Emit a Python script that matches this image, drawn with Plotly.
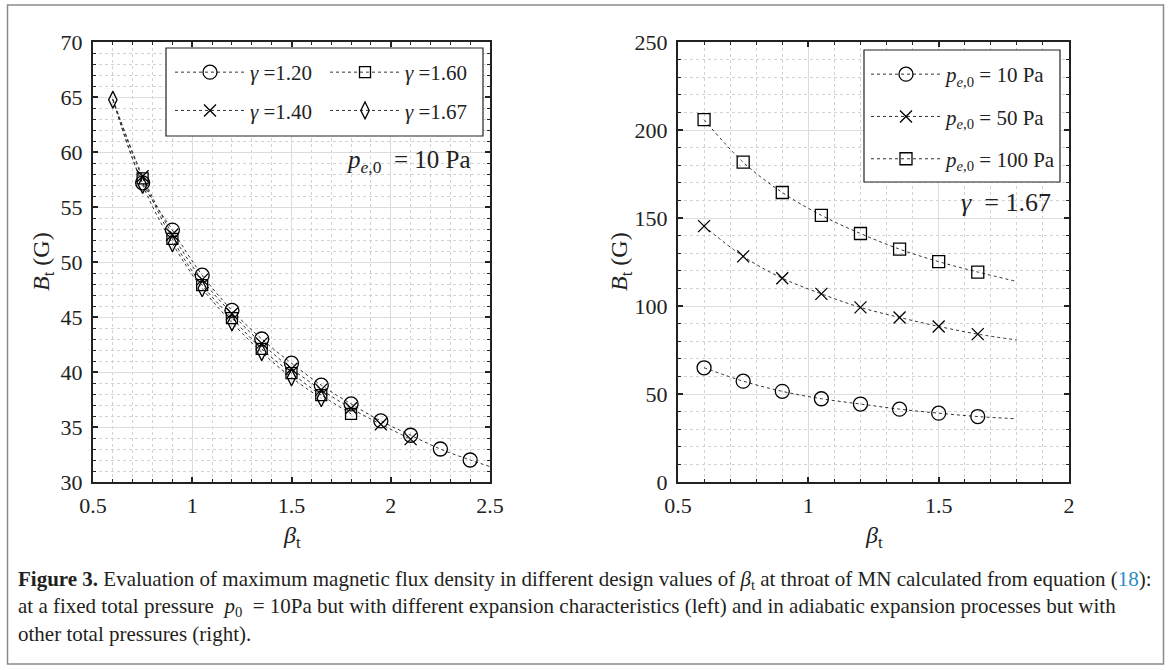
import plotly.graph_objects as go

W, H = 1171, 670
def px(x): return x / W
def py(y): return 1 - y / H

FONT = "Liberation Serif"

# ---------------- data: left panel (p_e0 = 10 Pa, different gamma) ----------------
gamma_labels = ["1.20", "1.40", "1.60", "1.67"]
beta_g120 = [0.75, 0.9, 1.05, 1.2, 1.35, 1.5, 1.65, 1.8, 1.95, 2.1, 2.25, 2.4]
B_g120 = [57.2, 52.9, 48.8, 45.6, 43.0, 40.8, 38.8, 37.1, 35.55, 34.25, 33.0, 32.0]
beta_g140 = [0.75, 0.9, 1.05, 1.2, 1.35, 1.5, 1.65, 1.8, 1.95, 2.1]
B_g140 = [57.8, 52.5, 48.4, 45.3, 42.6, 40.3, 38.4, 36.7, 35.25, 33.9]
beta_g160 = [0.75, 0.9, 1.05, 1.2, 1.35, 1.5, 1.65, 1.8]
B_g160 = [57.6, 52.1, 47.9, 44.9, 42.1, 39.9, 37.9, 36.2]
beta_g167 = [0.6, 0.75, 0.9, 1.05, 1.2, 1.35, 1.5, 1.65]
B_g167 = [64.75, 57.0, 51.7, 47.6, 44.5, 41.8, 39.5, 37.6]

# curve start / end points
line_start_B = [64.8, 64.8, 64.75, 64.75]   # at beta = 0.6
g120_end_beta, g120_end_B = 2.5, 31.4

# ---------------- data: right panel (gamma = 1.67, different p_e0) ----------------
p_labels = ["10", "50", "100"]
beta_p = [0.6, 0.75, 0.9, 1.05, 1.2, 1.35, 1.5, 1.65]
B_p10 = [64.9, 57.3, 51.5, 47.3, 44.3, 41.4, 39.1, 37.2]
B_p50 = [145.4, 128.2, 115.8, 106.9, 99.2, 93.5, 88.4, 84.0]
B_p100 = [205.9, 181.7, 164.5, 151.5, 141.2, 132.3, 125.2, 119.3]
line_end_beta = 1.8
line_end_B = [35.9, 80.7, 113.9]

fig = go.Figure()

LINE = dict(color="#333333", width=1, dash="dot", shape="spline")
MK = dict(color="black", line=dict(color="black", width=1.3))

left_series = [
    ("circle-open", 14, beta_g120, B_g120, True),
    ("x-thin-open", 12, beta_g140, B_g140, False),
    ("square-open", 11, beta_g160, B_g160, False),
    ("diamond-tall-open", 12, beta_g167, B_g167, False),
]
legend_for_left = {0: "legend", 1: "legend", 2: "legend2", 3: "legend2"}
for i, (sym, size, bx, by, ext) in enumerate(left_series):
    lx = list(bx)
    ly = list(by)
    if lx[0] != 0.6:
        lx = [0.6] + lx
        ly = [line_start_B[i]] + ly
    if ext:
        lx = lx + [g120_end_beta]
        ly = ly + [g120_end_B]
    fig.add_trace(go.Scatter(x=lx, y=ly, mode="lines", line=LINE, showlegend=False,
                             hoverinfo="skip", xaxis="x", yaxis="y"))
    fig.add_trace(go.Scatter(x=bx, y=by, mode="markers",
                             marker=dict(symbol=sym, size=size, **MK),
                             showlegend=False, xaxis="x", yaxis="y"))
    fig.add_trace(go.Scatter(x=[None], y=[None], mode="lines+markers",
                             line=dict(color="#333333", width=1, dash="dot"),
                             marker=dict(symbol=sym, size=size, **MK),
                             name="<i>γ</i> =" + gamma_labels[i],
                             legend=legend_for_left[i], legendgroup="g" + str(i),
                             xaxis="x", yaxis="y"))

right_series = [
    ("circle-open", 14, B_p10),
    ("x-thin-open", 12, B_p50),
    ("square-open", 12, B_p100),
]
for i, (sym, size, by) in enumerate(right_series):
    fig.add_trace(go.Scatter(x=beta_p + [line_end_beta], y=by + [line_end_B[i]], mode="lines",
                             line=LINE, showlegend=False, hoverinfo="skip",
                             xaxis="x2", yaxis="y2"))
    fig.add_trace(go.Scatter(x=beta_p, y=by, mode="markers",
                             marker=dict(symbol=sym, size=size, **MK),
                             showlegend=False, xaxis="x2", yaxis="y2"))
    fig.add_trace(go.Scatter(x=[None], y=[None], mode="lines+markers",
                             line=dict(color="#333333", width=1, dash="dot"),
                             marker=dict(symbol=sym, size=size, **MK),
                             name="<i>p</i><sub><i>e</i>,0</sub> = " + p_labels[i] + " Pa",
                             legend="legend3", legendgroup="p" + str(i),
                             xaxis="x2", yaxis="y2"))

def axis(domain, rng, dtick, minor_dtick, anchor, standoff):
    return dict(
        domain=domain, range=rng, dtick=dtick, anchor=anchor, automargin=False,
        showline=True, linecolor="#222222", linewidth=2, mirror="allticks",
        ticks="inside", ticklen=5, tickwidth=1.5, tickcolor="#222222",
        ticklabelstandoff=standoff,
        showgrid=True, gridcolor="#dcdcdc", gridwidth=1, zeroline=False,
        tickfont=dict(family=FONT, size=22, color="#222222"),
        minor=dict(dtick=minor_dtick, ticks="inside", ticklen=3, tickwidth=1.2,
                   tickcolor="#222222", showgrid=True, gridcolor="#d2d2d2",
                   griddash="dot", gridwidth=1),
        fixedrange=True,
    )

xl = [px(93), px(490)]
xr = [px(678), px(1069)]
yd = [py(482), py(42)]

fig.update_layout(
    template="none",
    width=W, height=H, margin=dict(l=0, r=0, t=0, b=0, pad=0, autoexpand=False),
    paper_bgcolor="white", plot_bgcolor="white",
    xaxis=axis(xl, [0.5, 2.5], 0.5, 0.1, "y", 3),
    yaxis=axis(yd, [30, 70], 5, 1, "x", 4),
    xaxis2=axis(xr, [0.5, 2.0], 0.5, 0.1, "y2", 3),
    yaxis2=axis(yd, [0, 250], 50, 10, "x2", 4),
    font=dict(family=FONT, color="#222222"),
)

leg_common = dict(bgcolor="rgba(0,0,0,0)", borderwidth=0, orientation="v",
                  xanchor="left", yanchor="top", itemwidth=70, tracegroupgap=8,
                  font=dict(family=FONT, size=21, color="#222222"),
                  itemclick=False, itemdoubleclick=False)
fig.update_layout(
    legend=dict(x=px(170), y=py(52), **leg_common),
    legend2=dict(x=px(325), y=py(52), **leg_common),
    legend3=dict(x=px(866), y=py(54), **{**leg_common, "tracegroupgap": 12}),
)

shapes = [
    # legend boxes
    dict(type="rect", xref="paper", yref="paper", x0=px(166), x1=px(483), y0=py(136), y1=py(48),
         line=dict(color="#222222", width=1.2), fillcolor="white", layer="above"),
    dict(type="rect", xref="paper", yref="paper", x0=px(864), x1=px(1060), y0=py(182), y1=py(50),
         line=dict(color="#222222", width=1.2), fillcolor="white", layer="above"),
    # outer frame
    dict(type="rect", xref="paper", yref="paper", x0=px(7.5), x1=px(1163.5), y0=py(664), y1=py(5),
         line=dict(color="#8a8a8a", width=1.5), fillcolor="rgba(0,0,0,0)", layer="below"),
]
fig.update_layout(shapes=shapes)

ann = []
ann.append(dict(text="<i>p</i><sub><i>e</i>,0</sub>  = 10 Pa", x=px(473), y=py(161), xref="paper", yref="paper",
                xanchor="right", yanchor="middle", showarrow=False,
                font=dict(family=FONT, size=25, color="#222222")))
ann.append(dict(text="<i>γ</i>  = 1.67", x=px(1053), y=py(203), xref="paper", yref="paper",
                xanchor="right", yanchor="middle", showarrow=False,
                font=dict(family=FONT, size=26, color="#222222")))
# axis titles
for cx in [(93 + 490) / 2, (678 + 1069) / 2]:
    ann.append(dict(text="<i>β</i><sub>t</sub>", x=px(cx), y=py(537), xref="paper", yref="paper",
                    xanchor="center", yanchor="middle", showarrow=False,
                    font=dict(family=FONT, size=24, color="#222222")))
for cx in [43, 621]:
    ann.append(dict(text="<i>B</i><sub>t</sub> (G)", x=px(cx), y=py(262), xref="paper", yref="paper",
                    xanchor="center", yanchor="middle", showarrow=False, textangle=-90,
                    font=dict(family=FONT, size=24, color="#222222")))
# caption
cap = [
    "<b>Figure 3.</b> Evaluation of maximum magnetic flux density in different design values of "
    "<i>β</i><sub>t</sub> at throat of MN calculated from equation (<span style='color:#2a8cc4'>18</span>):",
    "at a fixed total pressure  <i>p</i><sub>0</sub>  = 10Pa but with different expansion characteristics "
    "(left) and in adiabatic expansion processes but with",
    "other total pressures (right).",
]
for t, yy in zip(cap, [580, 607, 634]):
    ann.append(dict(text=t, x=px(16), y=py(yy), xref="paper", yref="paper",
                    xanchor="left", yanchor="middle", showarrow=False,
                    font=dict(family=FONT, size=21, color="#231f20")))
fig.update_layout(annotations=ann)

fig.write_html("out.html", config={"displayModeBar": False, "staticPlot": False},
               post_script="document.body.style.margin='0';document.body.style.padding='0';")
